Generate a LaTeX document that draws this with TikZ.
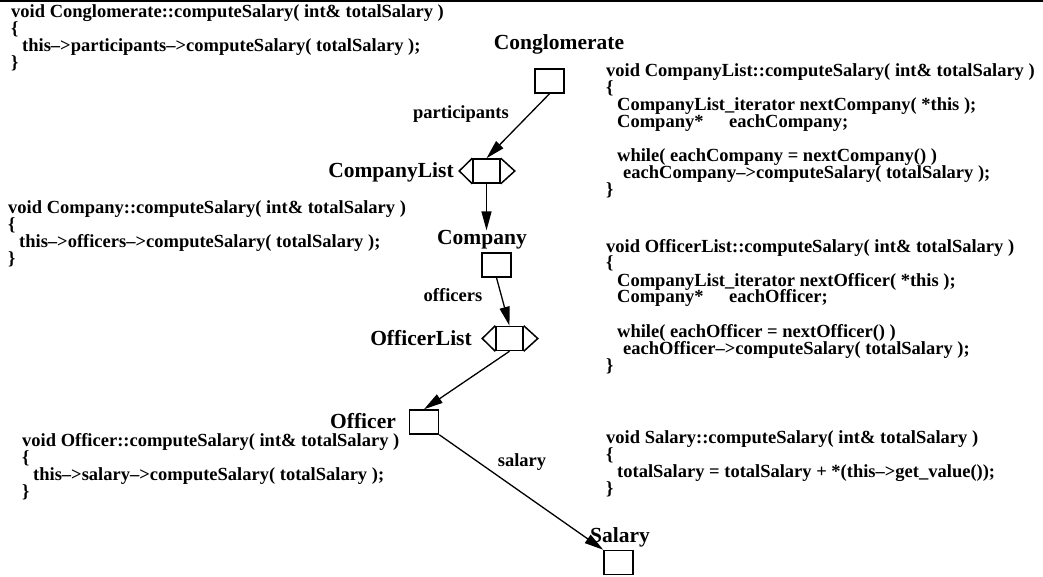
\documentclass[tikz,border=0pt]{standalone}
\usepackage{fontspec}
\setmainfont{Liberation Serif}
\usetikzlibrary{arrows.meta}
\newcommand{\codefont}{\fontsize{18.5}{17}\selectfont\bfseries}
\newcommand{\lblfont}{\fontsize{21.5}{24}\selectfont\bfseries}
\newcommand{\codelines}[1]{\vtop{\codefont\baselineskip=17pt\lineskiplimit=-20pt\halign{##\hfil\cr#1\crcr}}}
\begin{document}
\begin{tikzpicture}[x=1pt,y=-1pt,
  code/.style={anchor=base west,inner sep=0pt},
  lbl/.style={inner sep=0pt,font=\lblfont},
  rolelbl/.style={inner sep=0pt,font=\codefont},
  obj/.style={draw,line width=1.5pt,minimum width=29pt,minimum height=24pt,inner sep=0pt},
  listobj/.style={draw,line width=1.5pt,minimum width=27pt,minimum height=24pt,inner sep=0pt},
  chev/.style={line width=1.5pt,line join=miter},
  arr/.style={line width=1.3pt,-{Triangle[length=19pt,width=10pt]}},
]
\useasboundingbox (0,0) rectangle (1043,577);
\fill[black] (0,0) rectangle (1043,2.5);

% code blocks
\node[code] (b1) at (11,18) {\codelines{void Conglomerate::computeSalary( int\& totalSalary )\cr
\{\cr
\hspace*{11pt}this\textendash>participants\textendash>computeSalary( totalSalary );\cr
\}}};

\node[code] (b2) at (606,77) {\codelines{void CompanyList::computeSalary( int\& totalSalary )\cr
\{\cr
\hspace*{11pt}CompanyList\_iterator nextCompany( *this );\cr
\hspace*{11pt}\makebox[112pt][l]{Company*}eachCompany;\cr
\cr
\hspace*{11pt}while( eachCompany = nextCompany() )\cr
\hspace*{17pt}eachCompany\textendash>computeSalary( totalSalary );\cr
\}}};

\node[code] (b5) at (8,214) {\codelines{void Company::computeSalary( int\& totalSalary )\cr
\{\cr
\hspace*{11pt}this\textendash>officers\textendash>computeSalary( totalSalary );\cr
\}}};

\node[code] (b3) at (606,252) {\codelines{void OfficerList::computeSalary( int\& totalSalary )\cr
\{\cr
\hspace*{11pt}CompanyList\_iterator nextOfficer( *this );\cr
\hspace*{11pt}\makebox[112pt][l]{Company*}eachOfficer;\cr
\cr
\hspace*{11pt}while( eachOfficer = nextOfficer() )\cr
\hspace*{17pt}eachOfficer\textendash>computeSalary( totalSalary );\cr
\}}};

\node[code] (b4) at (606,443) {\codelines{void Salary::computeSalary( int\& totalSalary )\cr
\{\cr
\hspace*{11pt}totalSalary = totalSalary + *(this\textendash>get\_value());\cr
\}}};

\node[code] (b6) at (22,446) {\codelines{void Officer::computeSalary( int\& totalSalary )\cr
\{\cr
\hspace*{11pt}this\textendash>salary\textendash>computeSalary( totalSalary );\cr
\}}};

% class labels
\node[lbl] (lcg) at (559,44) {Conglomerate};
\node[lbl] (lcl) at (391,172) {CompanyList};
\node[lbl] (lcb) at (482,240) {Company};
\node[lbl] (lol) at (421,338) {OfficerList};
\node[lbl] (lob) at (363,421) {Officer};
\node[lbl] (lsb) at (620,537) {Salary};

% objects
\node[obj] (cg) at (549.5,81) {};
\node[listobj] (cl) at (486.5,171) {};
\node[obj] (cb) at (496.5,265) {};
\node[listobj] (ol) at (509.5,338.5) {};
\node[obj] (ob) at (424,422) {};
\node[obj] (sb) at (618.5,562.5) {};

\draw[chev] (cl.north west) -- ([xshift=-13pt]cl.west) -- (cl.south west);
\draw[chev] (cl.north east) -- ([xshift=14pt]cl.east) -- (cl.south east);
\draw[chev] (ol.north west) -- ([xshift=-13pt]ol.west) -- (ol.south west);
\draw[chev] (ol.north east) -- ([xshift=14pt]ol.east) -- (ol.south east);

% role labels
\node[rolelbl] (rp) at (461,114) {participants};
\node[rolelbl] (ro) at (453,295) {officers};
\node[rolelbl] (rs) at (522,462) {salary};

% connectors
\draw[arr] (cg.south) -- (cl.north);
\draw[arr] (cl.south) -- (cl.south |- lcb.north);
\draw[arr] (cb.south) -- (ol.north);
\draw[arr] (ol.south) -- (ob.north);
\draw[arr] (ob.south east) -- (sb.north west);
\end{tikzpicture}
\end{document}
